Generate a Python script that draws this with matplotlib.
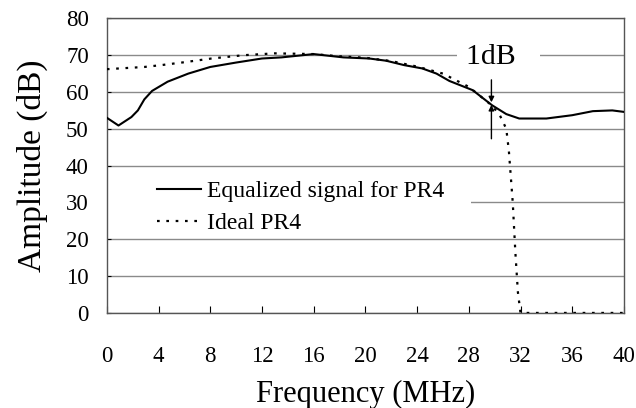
"""
Equalized signal vs ideal PR4 amplitude response.
"""

import matplotlib.pyplot as plt
from matplotlib.patches import Rectangle

plt.rcParams['font.family'] = ['Liberation Serif', 'DejaVu Serif']

# ===== DATA =====
freq_eq = [0, 0.9, 1.9, 2.4, 2.9, 3.5, 4.7, 6.3, 8, 10, 12, 13.5, 16, 18.3,
           20.3, 21.6, 23, 24.4, 25.5, 26.5, 28.3, 29.8, 30.9, 31.9, 34, 36,
           37.6, 39.1, 40]
amp_eq = [53.0, 50.9, 53.2, 55.0, 58.0, 60.3, 62.8, 65.0, 66.8, 68.0, 69.1,
          69.4, 70.3, 69.4, 69.1, 68.5, 67.3, 66.4, 65.0, 63.0, 60.5, 56.4,
          54.0, 52.8, 52.8, 53.7, 54.8, 55.0, 54.6]

freq_ideal = [0, 2.9, 4.2, 5.8, 8.1, 10.6, 13, 16, 18, 20, 22, 24, 26, 28,
              29.8, 30.4, 30.9, 31.1, 31.4, 31.6, 31.8, 32, 33, 40]
amp_ideal = [66.2, 66.8, 67.3, 68.0, 69.1, 70.0, 70.5, 70.3, 69.7, 69.3, 68.4,
             66.9, 65.0, 61.4, 56.3, 53.7, 50.0, 44.0, 30.0, 16.6, 5.6, 0, 0, 0]

x_ticks = list(range(0, 41, 4))
y_ticks = list(range(0, 81, 10))

# 1dB marker: arrow x position and the two arrow spans (start, tip)
marker_freq = 29.75
arrow_top = (63.3, 57.2)
arrow_bottom = (47.3, 56.5)

# ===== PLOT =====
fig = plt.figure(figsize=(6.36, 4.08), dpi=100)
ax = fig.add_axes([0.168, 0.233, 0.813, 0.722])

ax.set_axisbelow(True)
ax.grid(axis='y', color='#8a8a8a', linewidth=1.0)

# white box behind the legend hides part of the 30 dB grid line
ax.add_patch(Rectangle((0, 0.36), 0.705, 0.06, transform=ax.transAxes,
                       facecolor='white', edgecolor='none', zorder=1))

ax.plot(freq_eq, amp_eq, color='black', linewidth=1.5,
        label='Equalized signal for PR4', zorder=3)
ax.plot(freq_ideal, amp_ideal, color='black', linewidth=1.6,
        linestyle=(0, (1.2, 3.0)), label='Ideal PR4', zorder=3)

# 1dB arrows
ax.annotate('', xy=(marker_freq, arrow_top[1]), xytext=(marker_freq, arrow_top[0]),
            arrowprops=dict(arrowstyle='-|>', color='black', lw=1.0,
                            mutation_scale=8, shrinkA=0, shrinkB=0), zorder=4)
ax.annotate('', xy=(marker_freq, arrow_bottom[1]), xytext=(marker_freq, arrow_bottom[0]),
            arrowprops=dict(arrowstyle='-|>', color='black', lw=1.0,
                            mutation_scale=8, shrinkA=0, shrinkB=0), zorder=4)
ax.text(27.8, 69.5, '1dB  ', fontsize=21.5, ha='left', va='center', zorder=4,
        bbox=dict(boxstyle='square,pad=0.3', facecolor='white', edgecolor='none'))

ax.legend(loc='upper left', bbox_to_anchor=(0.075, 0.49), frameon=False,
          fontsize=17, handlelength=1.85, handletextpad=0.25, labelspacing=0.45,
          borderpad=0)

ax.set_xlim(0, 40)
ax.set_ylim(0, 80)
ax.set_xticks(x_ticks)
ax.set_yticks(y_ticks)
ax.tick_params(axis='x', direction='in', length=5, width=0.8, pad=24, labelsize=16.5)
ax.tick_params(axis='y', direction='in', length=3, width=0.8, pad=13, labelsize=16.5)

for side in ['left', 'right', 'top', 'bottom']:
    ax.spines[side].set_color('#555555')
    ax.spines[side].set_linewidth(1.0)

ax.set_xlabel('Frequency (MHz)', fontsize=22, labelpad=9)
ax.set_ylabel('Amplitude (dB)', fontsize=24, labelpad=13)

plt.savefig('out.png', dpi=100)
plt.close()
